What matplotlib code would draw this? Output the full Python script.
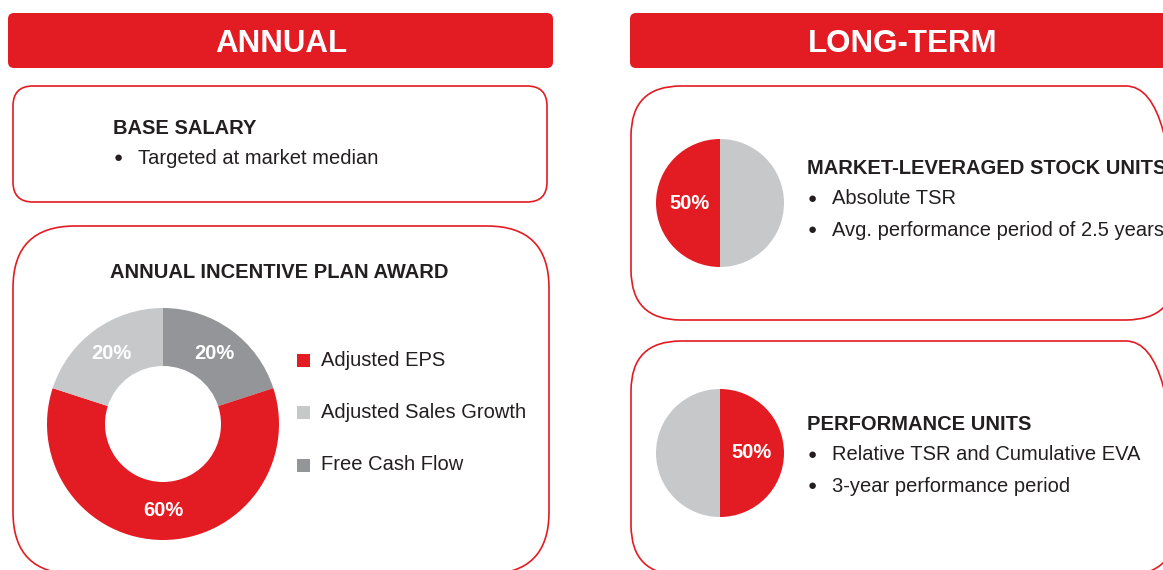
import matplotlib
matplotlib.use("Agg")
import matplotlib.pyplot as plt
from matplotlib.patches import FancyBboxPatch, Rectangle

# ---------------- data ----------------
headers = ["ANNUAL", "LONG-TERM"]
base_title = "BASE SALARY"
base_bullets = ["Targeted at market median"]

aip_title = "ANNUAL INCENTIVE PLAN AWARD"
aip_labels = ["Adjusted EPS", "Adjusted Sales Growth", "Free Cash Flow"]
aip_values = [60, 20, 20]
aip_colors = ["#e31b23", "#c7c8ca", "#939598"]

msu_title = "MARKET-LEVERAGED STOCK UNITS"
msu_bullets = ["Absolute TSR", "Avg. performance period of 2.5 years"]
msu_values = [50, 50]          # [this award, other award]

pu_title = "PERFORMANCE UNITS"
pu_bullets = ["Relative TSR and Cumulative EVA", "3-year performance period"]
pu_values = [50, 50]

RED = "#e31b23"
LGRAY = "#c7c8ca"
TXT = "#231f20"
FONT = "Liberation Sans"

W, H = 1163, 570
fig = plt.figure(figsize=(W / 100, H / 100), dpi=100)
ax = fig.add_axes([0, 0, 1, 1])


def Y(y):
    return H - y


def rbox(x0, y0, x1, y1, r, fill=False):
    p = FancyBboxPatch((x0, Y(y1)), x1 - x0, y1 - y0,
                       boxstyle=f"round,pad=0,rounding_size={r}",
                       facecolor=RED if fill else "none",
                       edgecolor="none" if fill else RED,
                       linewidth=0 if fill else 1.2, zorder=1)
    ax.add_patch(p)


def txt(x, y, s, size=14.5, bold=False, color=TXT, ha="left", va="center"):
    ax.text(x, Y(y), s, fontsize=size, fontweight="bold" if bold else "normal",
            color=color, ha=ha, va=va, family=[FONT, "DejaVu Sans"], zorder=5)


def block(x, y, title, bullets, pitch=31):
    txt(x, y, title, bold=True)
    for i, b in enumerate(bullets):
        yy = y + pitch * (i + 1)
        txt(x + 5, yy, "\u25CF", size=11, ha="center")
        txt(x + 25, yy, b)


# headers
rbox(8, 13, 553, 68, 6, fill=True)
rbox(630, 13, 1175, 68, 6, fill=True)
txt(281, 52, headers[0], size=22.5, bold=True, color="white", ha="center",
    va="baseline")
txt(903, 52, headers[1], size=22.5, bold=True, color="white", ha="center",
    va="baseline")

# outlined boxes
rbox(13, 86, 547, 202, 20)
rbox(13, 226, 549, 574, 62)
rbox(631, 86, 1176, 320, 50)
rbox(631, 341, 1176, 575, 50)

# base salary
block(113, 128, base_title, base_bullets, pitch=30)

# annual incentive plan donut
txt(279, 273, aip_title, bold=True, ha="center")
order = [2, 0, 1]
wedges, _, autot = ax.pie([aip_values[i] for i in order],
                          colors=[aip_colors[i] for i in order],
                          startangle=90, counterclock=False,
                          center=(163, Y(424)), radius=116,
                          wedgeprops=dict(width=58, linewidth=0),
                          autopct=lambda p: f"{p:.0f}%", pctdistance=0.75,
                          textprops=dict(color="white", fontsize=14.5,
                                         fontweight="bold", family=FONT))
for i, (lab, col) in enumerate(zip(aip_labels, aip_colors)):
    yy = 360 + 52.5 * i
    ax.add_patch(Rectangle((297, Y(yy) - 6.5), 13, 13, facecolor=col,
                           edgecolor="none", zorder=4))
    txt(321, yy, lab)

# market-leveraged stock units pie
_, _, at1 = ax.pie(msu_values, colors=[RED, LGRAY], startangle=90,
                   counterclock=True, center=(720, Y(203)), radius=64,
                   wedgeprops=dict(linewidth=0),
                   autopct=lambda p: f"{p:.0f}%", pctdistance=0.47,
                   textprops=dict(color="white", fontsize=14.5,
                                  fontweight="bold", family=FONT))
at1[1].set_text("")
block(807, 168, msu_title, msu_bullets)

# performance units pie
_, _, at2 = ax.pie(pu_values, colors=[RED, LGRAY], startangle=90,
                   counterclock=False, center=(720, Y(453)), radius=64,
                   wedgeprops=dict(linewidth=0),
                   autopct=lambda p: f"{p:.0f}%", pctdistance=0.5,
                   textprops=dict(color="white", fontsize=14.5,
                                  fontweight="bold", family=FONT))
at2[1].set_text("")
block(807, 424, pu_title, pu_bullets)

ax.set_xlim(0, W)
ax.set_ylim(0, H)
ax.set_aspect("equal")
ax.axis("off")
fig.savefig("out.png", dpi=100, facecolor="white")
